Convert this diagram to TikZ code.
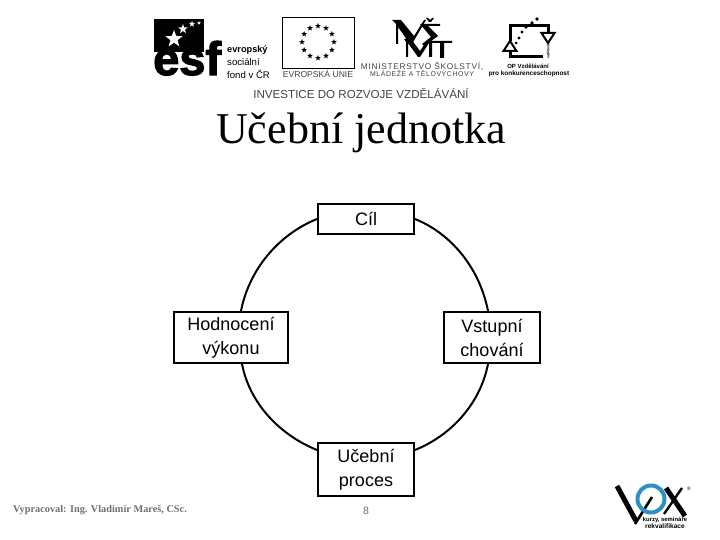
\documentclass[tikz,border=0pt]{standalone}
\usepackage{fontspec}
\setmainfont{Liberation Sans}
\newfontfamily\serif{Liberation Serif}
\newfontfamily\tracked[LetterSpace=9]{Liberation Sans}
\newfontfamily\heavy[BoldFont={Liberation Sans Bold},BoldFeatures={FakeBold=2.5}]{Liberation Sans}
\usetikzlibrary{shapes.geometric,calc}
\definecolor{footgray}{HTML}{707070}
\definecolor{logogray}{HTML}{444444}
\definecolor{voxblue}{HTML}{2E8FC5}
\tikzset{
  boxa/.style={draw=black,line width=2pt,fill=white,minimum width=96pt,align=center,font=\fontsize{18}{24}\selectfont,inner sep=0pt},
  link/.style={draw=black,line width=2pt,looseness=.9},
  estar/.style={star,star points=5,star point ratio=2.4,fill=#1,inner sep=0pt,draw=none},
  ltxt/.style={inner sep=0pt,text=logogray}
}
\begin{document}
\begin{tikzpicture}[x=1pt,y=-1pt]
\useasboundingbox (0,0) rectangle (720,540);
\fill[white] (0,0) rectangle (720,540);
% ESF logo
\fill[black] (154,19) rectangle (204,52);
\node[inner sep=0pt,anchor=base west,font=\heavy\bfseries\fontsize{47}{47}\selectfont] (esf) at (153,75) {esf};
\foreach \px/\py/\r in {174/39/9,183/29/5,192/24/3.2,199/23/2}{
  \node[estar=white,minimum size=2*\r pt] at (\px,\py) {};
}
\node[inner sep=0pt,anchor=west,font=\bfseries\fontsize{9.2}{10}\selectfont] (esfa) at (227,50) {evropský};
\node[inner sep=0pt,anchor=west,font=\fontsize{9.6}{10}\selectfont] (esfb) at (227,62) {sociální};
\node[inner sep=0pt,anchor=west,font=\fontsize{9.6}{10}\selectfont] (esfc) at (227,74) {fond v ČR};
% EU flag
\draw[black,line width=1pt] (282,18) rectangle (354,69);
\foreach \a in {0,30,...,330}{
  \node[estar=black,minimum size=6pt] at ($(318,42)+(\a:16)$) {};
}
\node[ltxt,font=\fontsize{8.6}{10}\selectfont] (eu) at (318,74) {EVROPSKÁ UNIE};
% MSMT logo
\fill[black] (392,20) -- (401,20) -- (414,36) -- (424,20) -- (426,20) -- (412,44) -- (410,44) -- (398,27) -- (398,44) -- (396,44) -- (396,24) -- cycle;
\fill[black] (420,24) -- (440,24) -- (440,26) -- (428,26) -- (438,36) -- (424,46) -- (422,44) -- (431,37) -- cycle;
\fill[black] (426,18) -- (428,18) -- (430,20) -- (432,18) -- (434,18) -- (431,22) -- (429,22) -- cycle;
\fill[black] (404,39) -- (411,39) -- (420,51) -- (428,39) -- (432,39) -- (432,57) -- (429,57) -- (429,43) -- (420,57) -- (418,57) -- (408,43) -- (408,57) -- (406,57) -- (406,42) -- cycle;
\fill[black] (431,41) -- (452,41) -- (452,43) -- (444,43) -- (444,58) -- (440,58) -- (440,43) -- (431,43) -- cycle;
\node[ltxt,font=\tracked\fontsize{8.3}{9}\selectfont] (msa) at (422,66) {MINISTERSTVO ŠKOLSTVÍ,};
\node[ltxt,font=\tracked\fontsize{6.9}{9}\selectfont] (msb) at (422,74) {MLÁDEŽE A TĚLOVÝCHOVY};
% OP logo
\draw[black,line width=3pt] (510,41) -- (510,25.5) -- (548,25.5) -- (548,34);
\draw[black,line width=3pt] (510,50) -- (510,57) -- (543,57);
\foreach \px/\py/\r in {537/19/1.9,532/23/1.9,526/27/1.9,522/32/1.7,519/38/1.7,516/43/1.5}{
  \fill[black] (\px,\py) circle (\r);
}
\draw[black,line width=2pt,fill=white] (503.5,51) -- (516.5,51) -- (510,41) -- cycle;
\draw[black,line width=2pt,fill=white] (541.5,33) -- (554.5,33) -- (548,43) -- cycle;
\node[inner sep=0pt,rotate=90,font=\bfseries\fontsize{3.5}{4}\selectfont] (opr) at (548,50) {vzdělávání};
\node[inner sep=0pt,font=\bfseries\fontsize{6}{7}\selectfont] (opa) at (528,66) {OP Vzdělávání};
\node[inner sep=0pt,font=\bfseries\fontsize{6.4}{7}\selectfont] (opb) at (529,74) {pro konkurenceschopnost};
% Headers
\node[ltxt,font=\fontsize{11.6}{14}\selectfont] (inv) at (361,93) {INVESTICE DO ROZVOJE VZDĚLÁVÁNÍ};
\node[inner sep=0pt,font=\serif\fontsize{44}{50}\selectfont] (title) at (361,133) {Učební jednotka};
% Diagram
\node[boxa,minimum height=30pt] (cil) at (366,219) {Cíl};
\node[boxa,minimum width=114pt,minimum height=51pt] (hod) at (231,337.5) {Hodnocení\\výkonu};
\node[boxa,minimum height=51pt] (vst) at (492,337.5) {Vstupní\\chování};
\node[boxa,minimum height=53pt] (uce) at (366,469.5) {Učební\\proces};
\coordinate (hodt) at ($(hod.north west)+(68,0)$);
\coordinate (hodb) at ($(hod.south west)+(69,0)$);
\coordinate (vstt) at ($(vst.north west)+(45,0)$);
\coordinate (vstb) at ($(vst.south west)+(45,0)$);
\draw[link] (cil.west) to[out=202,in=79] (hodt);
\draw[link] (cil.east) to[out=-22,in=101] (vstt);
\draw[link] (hodb) to[out=-79,in=158] ($(uce.north west)+(0,8)$);
\draw[link] (vstb) to[out=-101,in=22] ($(uce.north east)+(0,8)$);
% Footer
\node[inner sep=0pt,anchor=west,text=footgray,font=\serif\bfseries\fontsize{10.3}{12}\selectfont] (foot) at (13,510) {Vypracoval: Ing. Vladimír Mareš, CSc.};
\node[inner sep=0pt,text=footgray,font=\fontsize{10.5}{12}\selectfont] (pg) at (366,511) {8};
% VOX logo
\draw[black,line width=5pt,line join=miter] (617,486) -- (636,521);
\draw[black,line width=2.6pt] (635,524) -- (652,497);
\draw[voxblue,line width=4pt] (651,499) circle (13.5);
\draw[black,line width=5pt] (666,488) -- (685,516);
\draw[black,line width=2.4pt] (682,488) -- (664,514);
\node[inner sep=0pt,font=\bfseries\fontsize{5.9}{6}\selectfont] (voxa) at (665,520) {kurzy, semináře};
\node[inner sep=0pt,font=\bfseries\fontsize{6.6}{6}\selectfont] (voxb) at (665,526.5) {rekvalifikace};
\node[inner sep=0pt,font=\fontsize{5}{6}\selectfont] (voxr) at (689,489) {®};
\end{tikzpicture}
\end{document}
